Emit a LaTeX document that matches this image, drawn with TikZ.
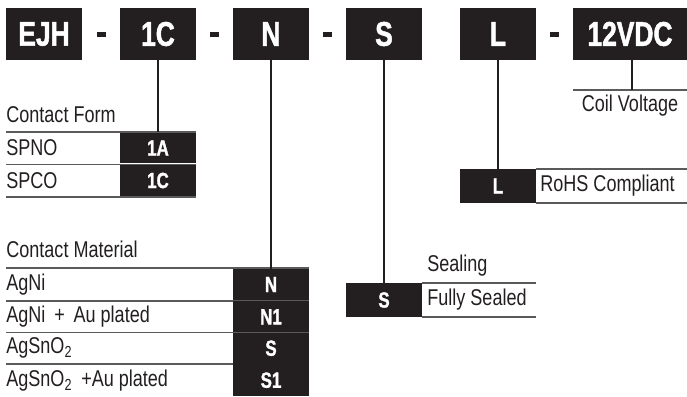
\documentclass[tikz,border=0pt]{standalone}
\usepackage{fontspec}
\setmainfont{Liberation Sans}[FakeStretch=0.79]
\newfontfamily\codefont{Liberation Sans Bold}[FakeStretch=0.77, FakeBold=1.4]
\usepackage{xcolor}
\usetikzlibrary{positioning}
\definecolor{boxblack}{HTML}{231F20}
\definecolor{rulegray}{HTML}{5A5A5A}

\begin{document}
\begin{tikzpicture}[
    x=0.02cm,
    y=-0.02cm,
    link/.style={draw=boxblack, line width=1.1pt}
]

\tikzstyle{topbox}=[
    fill=boxblack,
    text=white,
    minimum width=1.52cm,
    minimum height=1.04cm,
    inner sep=0pt,
    font=\codefont\fontsize{19.5}{19.5}\selectfont
]
\tikzstyle{cell}=[
    fill=boxblack,
    text=white,
    minimum width=1.52cm,
    minimum height=0.62cm,
    inner sep=0pt,
    font=\codefont\fontsize{12.5}{12.5}\selectfont
]
\tikzstyle{hyphenmark}=[
    fill=boxblack,
    minimum width=0.18cm,
    minimum height=0.1cm,
    inner sep=0pt
]
\tikzstyle{item}=[
    anchor=west,
    inner sep=0pt,
    font=\fontsize{13}{13}\selectfont,
    text=boxblack
]
\tikzstyle{rule}=[
    draw=rulegray,
    line width=0.6pt
]

\useasboundingbox (0,0) rectangle (687,396);

% part number
\node[topbox] (ejh) at (44,34) {EJH};
\node[topbox] (form) at (158,34) {1C};
\node[topbox] (mat) at (271,34) {N};
\node[topbox] (seal) at (384,34) {S};
\node[topbox] (rohs) at (498,34) {L};
\node[topbox, minimum width=2.28cm] (volt) at (630,34) {12VDC};

\node[hyphenmark] (d1) at (101.5,34.5) {};
\node[hyphenmark] (d2) at (214.5,34.5) {};
\node[hyphenmark] (d3) at (327.5,34.5) {};
\node[hyphenmark] (d4) at (554.5,34.5) {};

% contact form
\node[item] (formtitle) at (6,115) {Contact Form};
\draw[rule] (6,132) -- (196,132);
\draw[rule] (6,164.5) -- (196,164.5);
\draw[rule] (6,197) -- (196,197);
\node[cell] (form1a) at (158,148) {1A};
\node[cell] (form1c) at (158,180.5) {1C};
\node[item] (spno) at (6,148) {SPNO};
\node[item] (spco) at (6,180.5) {SPCO};

\draw[link] (form) -- (form1a);

% contact material
\node[item] (mattitle) at (6,249) {Contact Material};
\draw[rule] (6,268) -- (309,268);
\draw[rule] (6,301) -- (309,301);
\draw[rule] (6,332.5) -- (309,332.5);
\draw[rule] (6,364) -- (309,364);
\node[cell] (matn) at (271,284.5) {N};
\node[cell] (matn1) at (271,316.8) {N1};
\node[cell] (mats) at (271,348.2) {S};
\node[cell, minimum height=0.64cm] (mats1) at (271,380.2) {S1};
\node[item] (agni) at (6,284.5) {AgNi};
\node[item] (agniau) at (6,316.8) {AgNi\, +\, Au plated};
\node[item] (agsno) at (6,348.2) {AgSnO\textsubscript{2}};
\node[item] (agsnoau) at (6,380.2) {AgSnO\textsubscript{2} \,+Au plated};

\draw[link] (mat) -- (matn);

% sealing
\node[item] (sealtitle) at (427,266) {Sealing};
\draw[rule] (422,283) -- (536,283);
\draw[rule] (422,317) -- (536,317);
\node[cell, minimum height=0.68cm] (seals) at (384,300) {S};
\node[item] (fully) at (427,300) {Fully Sealed};

\draw[link] (seal) -- (seals);

% rohs
\draw[rule] (536,169) -- (687,169);
\draw[rule] (536,203) -- (687,203);
\node[cell, minimum height=0.68cm] (rohsl) at (498,186) {L};
\node[item] (rohstext) at (540,186) {RoHS Compliant};

\draw[link] (rohs) -- (rohsl);

% coil voltage
\draw[rule] (573,90) -- (687,90);
\coordinate (coil) at (632,90);
\node[item, anchor=center] (coiltext) at (630,106) {Coil Voltage};

\draw[link] (volt.south -| coil) -- (coil);

\end{tikzpicture}
\end{document}
